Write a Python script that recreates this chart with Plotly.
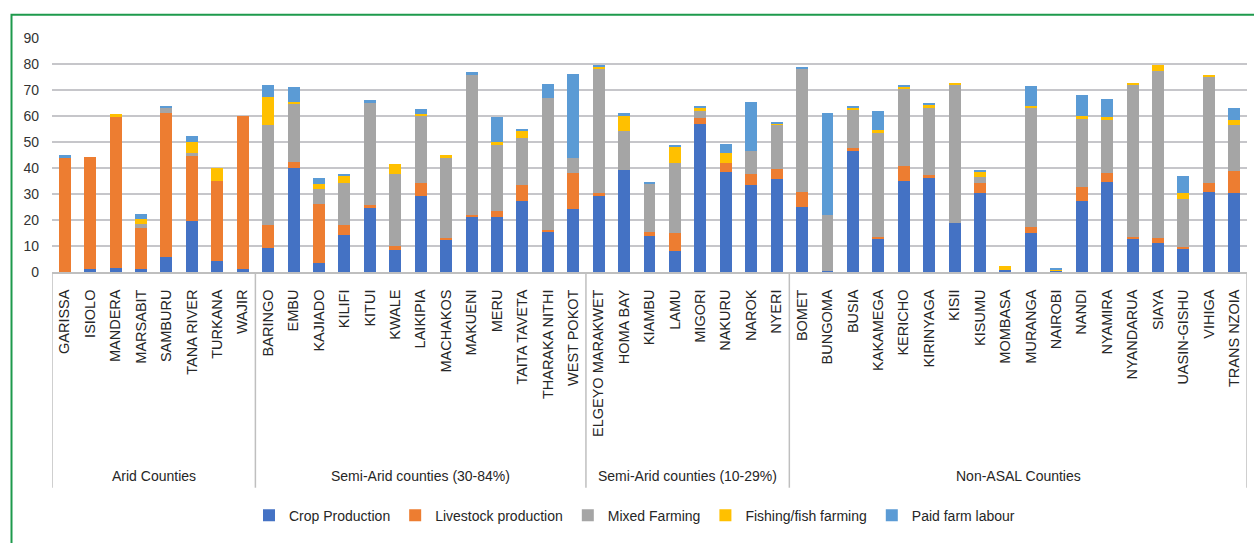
import plotly.graph_objects as go

# Counties in display order, grouped by aridity class
counties = [
    "GARISSA", "ISIOLO", "MANDERA", "MARSABIT", "SAMBURU", "TANA RIVER", "TURKANA", "WAJIR",
    "BARINGO", "EMBU", "KAJIADO", "KILIFI", "KITUI", "KWALE", "LAIKIPIA", "MACHAKOS",
    "MAKUENI", "MERU", "TAITA TAVETA", "THARAKA NITHI", "WEST POKOT",
    "ELGEYO MARAKWET", "HOMA BAY", "KIAMBU", "LAMU", "MIGORI", "NAKURU", "NAROK", "NYERI",
    "BOMET", "BUNGOMA", "BUSIA", "KAKAMEGA", "KERICHO", "KIRINYAGA", "KISII", "KISUMU",
    "MOMBASA", "MURANGA", "NAIROBI", "NANDI", "NYAMIRA", "NYANDARUA", "SIAYA",
    "UASIN-GISHU", "VIHIGA", "TRANS NZOIA",
]

groups = ["Arid Counties", "Semi-Arid counties (30-84%)",
          "Semi-Arid counties (10-29%)", "Non-ASAL Counties"]
group_sizes = [8, 13, 8, 18]

crop_production = [
    0, 1.2, 1.5, 1.2, 5.8, 19.6, 4.2, 1.2,
    9.2, 39.9, 3.5, 14.2, 24.6, 8.5, 29.2, 12.3, 21.1, 21.1, 27.3, 15.7, 24.2,
    29.6, 39.2, 13.8, 8.1, 56.8, 38.4, 33.4, 35.7,
    25.0, 0.4, 46.5, 12.7, 35.0, 36.1, 18.8, 30.3, 0.8, 15.0, 0.4, 27.3, 34.6,
    12.7, 11.1, 8.8, 30.7, 30.3,
]
livestock_production = [
    43.9, 43.0, 58.0, 15.8, 55.3, 25.1, 30.8, 58.7,
    8.9, 2.4, 22.6, 3.9, 1.1, 1.5, 5.0, 0.8, 0.8, 2.3, 6.1, 0.6, 13.8,
    0.6, 0, 1.7, 6.9, 2.4, 3.5, 4.2, 3.9,
    5.7, 0, 1.1, 0.7, 5.7, 1.2, 0, 3.9, 0, 2.3, 0, 5.4, 3.4,
    0.7, 2.0, 0.8, 3.5, 8.5,
]
mixed_farming = [
    0, 0, 0, 1.5, 1.9, 1.0, 0, 0,
    38.4, 22.2, 5.8, 16.1, 39.2, 27.6, 26.1, 31.1, 54.2, 25.8, 18.1, 50.5, 5.8,
    48.2, 15.0, 18.4, 26.9, 2.6, 0, 8.9, 17.2,
    47.7, 21.5, 15.0, 40.0, 29.6, 25.7, 53.4, 2.3, 0, 45.7, 0, 26.1, 20.4,
    58.4, 64.1, 18.4, 41.1, 17.7,
]
fish_farming = [
    0, 0, 1.2, 1.8, 0, 4.2, 4.9, 0,
    10.7, 0.8, 1.9, 2.8, 0, 3.9, 0.4, 0.7, 0, 0.7, 3.0, 0, 0,
    0.3, 5.7, 0.3, 6.1, 1.2, 3.8, 0, 0.4,
    0, 0, 0.5, 1.1, 1.1, 1.5, 0.4, 1.9, 1.5, 0.8, 0.4, 1.1, 1.1,
    0.8, 2.3, 2.3, 0.4, 1.9,
]
paid_farm_labour = [
    1.0, 0, 0, 1.9, 0.8, 2.3, 0, 0,
    4.6, 5.8, 2.3, 0.4, 1.2, 0, 1.9, 0, 0.7, 9.6, 0.4, 5.4, 32.3,
    0.8, 1.2, 0.4, 0.8, 0.8, 3.5, 18.8, 0.4,
    0.3, 39.2, 0.7, 7.3, 0.4, 0.4, 0, 0.8, 0, 7.6, 0.7, 8.1, 7.0,
    0, 0, 6.6, 0, 4.6,
]

series = [
    ("Crop Production", crop_production, "#4472C4"),
    ("Livestock production", livestock_production, "#ED7D31"),
    ("Mixed Farming", mixed_farming, "#A5A5A5"),
    ("Fishing/fish farming", fish_farming, "#FFC000"),
    ("Paid farm labour", paid_farm_labour, "#5B9BD5"),
]

FONT = "Liberation Sans, Arial, Helvetica, sans-serif"
GRID = "#C6C6CA"

fig = go.Figure()
for name, values, color in series:
    fig.add_trace(go.Bar(
        x=counties, y=values, name=name,
        marker=dict(color=color, line=dict(width=0)),
    ))

W, H = 1254, 543
L, R, T, B = 52, 7, 37.7, 271
plot_h = H - T - B


def py(pixel_y):
    """Paper y coordinate for a pixel row of the page."""
    return (H - B - pixel_y) / plot_h


shapes = []
annotations = []

# Group dividers under the category axis
edges = [-0.5]
for n in group_sizes:
    edges.append(edges[-1] + n)
for e in edges:
    shapes.append(dict(type="line", xref="x", yref="paper", x0=e, x1=e,
                       y0=0, y1=py(488), line=dict(color="#BFBFBF", width=1.5)))

# Group titles centred under each block of counties
start = 0
for g, n in zip(groups, group_sizes):
    mid = start + (n - 1) / 2
    annotations.append(dict(x=mid, xref="x", y=py(476), yref="paper",
                            text=g, showarrow=False, xanchor="center", yanchor="middle",
                            font=dict(family=FONT, size=14, color="#262626")))
    start += n

# Green frame around the figure
shapes.append(dict(type="rect", xref="paper", yref="paper",
                   x0=(11.5 - L) / (W - L - R), x1=1.2, y0=-2.0, y1=py(14.5),
                   line=dict(color="#1E9A4C", width=2), fillcolor="rgba(0,0,0,0)"))

fig.update_layout(
    width=W, height=H,
    margin=dict(l=L, r=R, t=T, b=B, autoexpand=False),
    barmode="stack",
    bargap=0.53,
    plot_bgcolor="white",
    paper_bgcolor="white",
    showlegend=True,
    legend=dict(orientation="h", x=(249 - L) / (W - L - R), xanchor="left",
                y=py(516), yanchor="middle",
                font=dict(family=FONT, size=14, color="#262626"),
                traceorder="normal", itemclick=False),
    xaxis=dict(
        type="category", range=[-0.5, len(counties) - 0.5],
        tickangle=-90, ticks="", showgrid=False,
        showline=True, linecolor="#BFBFBF", linewidth=1.5,
        tickfont=dict(family=FONT, size=14.5, color="#262626"),
        ticklabelstandoff=10,
    ),
    yaxis=dict(
        range=[0, 90], tickvals=list(range(0, 91, 10)),
        showgrid=True, gridcolor=GRID, gridwidth=1.5,
        zeroline=False, showline=False, ticks="",
        tickfont=dict(family=FONT, size=14, color="#333333"),
        ticklabelstandoff=12,
    ),
    shapes=shapes,
    annotations=annotations,
)

fig.write_html("out.html")
